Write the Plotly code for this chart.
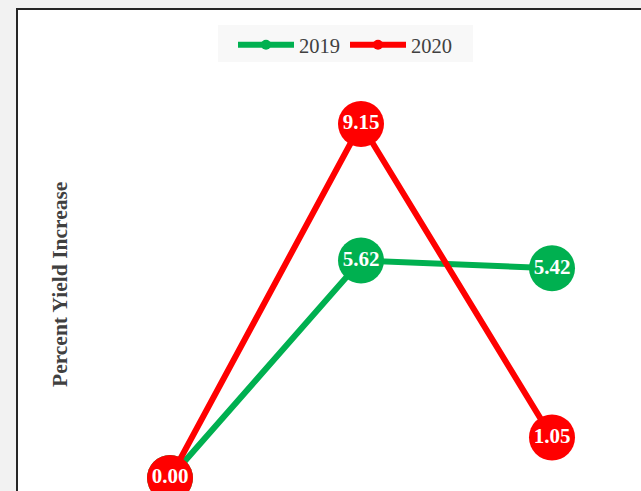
import plotly.graph_objects as go

# Yield increase by position along the trial (x positions are ordinal)
positions = [0, 1, 2]
yield_2019 = [0.00, 5.62, 5.42]
yield_2020 = [0.00, 9.15, 1.05]
series_names = ["2019", "2020"]
axis_title = "Percent Yield Increase"

GREEN = "#00b050"
RED = "#ff0000"
W, H = 641, 491
SERIF = "Times New Roman, Liberation Serif, serif"

fig = go.Figure()

for name, vals, color in [(series_names[0], yield_2019, GREEN),
                          (series_names[1], yield_2020, RED)]:
    fig.add_trace(go.Scatter(
        x=positions, y=vals, mode="lines+markers+text",
        line=dict(color=color, width=6),
        marker=dict(color=color, size=46),
        text=[f"{v:.2f}" for v in vals],
        textposition="middle center",
        textfont=dict(family=SERIF, size=21, color="white", weight="bold"),
        cliponaxis=False, showlegend=False,
    ))
    # compact legend entry
    fig.add_trace(go.Scatter(
        x=[None], y=[None], mode="lines+markers", name=name,
        line=dict(color=color, width=6),
        marker=dict(color=color, size=10),
    ))

# axis ranges chosen so the ordinal positions sit at the desired pixel spacing
px_per_x = 191.0
x0_px = 170.0
px_per_y = 38.69
y0_px = 478.0
fig.update_xaxes(range=[-x0_px / px_per_x, (W - x0_px) / px_per_x],
                 visible=False, fixedrange=True)
fig.update_yaxes(range=[(y0_px - H) / px_per_y, y0_px / px_per_y],
                 visible=False, fixedrange=True)

# white chart area with dark frame
fig.add_shape(type="rect", xref="paper", yref="paper",
              x0=17 / W, x1=1.3, y0=-0.3, y1=1 - 9 / H,
              fillcolor="white", line=dict(color="#262626", width=2),
              layer="below")
# legend panel
fig.add_shape(type="rect", xref="paper", yref="paper",
              x0=218 / W, x1=473 / W, y0=1 - 62 / H, y1=1 - 25 / H,
              fillcolor="#f8f8f8", line=dict(width=0), layer="below")

fig.add_annotation(text=axis_title, xref="paper", yref="paper",
                   x=60 / W, y=1 - 285 / H, xanchor="center", yanchor="middle",
                   textangle=-90, showarrow=False,
                   font=dict(family=SERIF, size=21.5, color="#404040", weight="bold"))

fig.update_layout(
    width=W, height=H,
    margin=dict(l=0, r=0, t=0, b=0),
    paper_bgcolor="#f2f2f2", plot_bgcolor="#f2f2f2",
    showlegend=True,
    legend=dict(orientation="h", x=345 / W, xanchor="center",
                y=1 - 25 / H, yanchor="top",
                bgcolor="rgba(0,0,0,0)", itemwidth=56,
                font=dict(family=SERIF, size=20.5, color="#404040")),
)

fig.write_html("out.html")
